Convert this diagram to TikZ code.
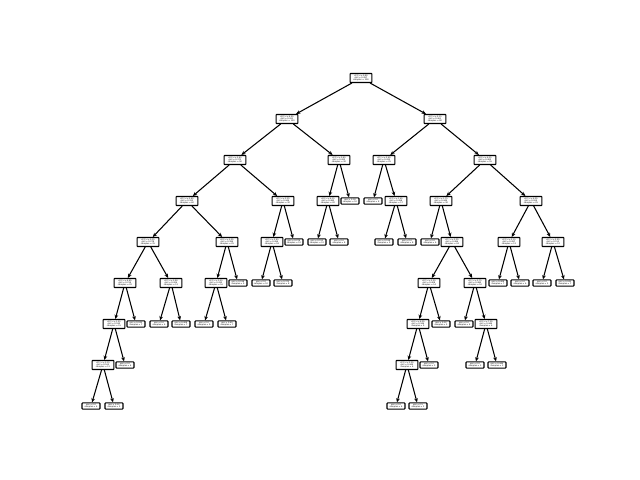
\documentclass[tikz,border=0pt]{standalone}
\usepackage{fontspec}
\setmainfont{DejaVu Sans}
\usepackage{xcolor}
\usetikzlibrary{arrows.meta}
\newcommand{\splittxt}[4]{x[#1] <= #2\\gini = #3\\samples = #4}
\newcommand{\leaftxt}[2]{gini = #1\\samples = #2}
\tikzset{
  split/.style={draw=black,fill=white,rounded corners=0.5pt,line width=0.75pt,
                inner sep=0.6pt,align=center,font=\fontsize{1.45}{1.7}\selectfont,
                minimum width=15.6pt,minimum height=6.4pt},
  leaf/.style={split,minimum width=12.8pt,minimum height=4.4pt},
  branch/.style={-{Stealth[length=3pt,width=2.6pt]},line width=0.75pt,draw=black}
}
\begin{document}
\begin{tikzpicture}[x=0.025cm,y=-0.025cm]
  \useasboundingbox (0,0) rectangle (640,480);
  % level 0-2
  \node[split] (n0) at (361,78) {\splittxt{3}{0.80}{0.497}{200}};
  \node[split] (n1) at (287,119) {\splittxt{2}{4.95}{0.431}{120}};
  \node[split] (n30) at (435,119) {\splittxt{2}{5.15}{0.461}{80}};
  \node[split] (n2) at (235,160) {\splittxt{0}{5.45}{0.375}{90}};
  \node[split] (n25) at (339,160) {\splittxt{3}{0.45}{0.420}{30}};
  \node[split] (n31) at (384,160) {\splittxt{1}{2.65}{0.435}{25}};
  \node[split] (n36) at (485,160) {\splittxt{0}{6.35}{0.400}{55}};
  % level 3
  \node[split] (n3) at (187,201) {\splittxt{1}{2.85}{0.320}{60}};
  \node[split] (n20) at (283,201) {\splittxt{1}{3.35}{0.444}{30}};
  \node[split] (n26) at (328,201) {\splittxt{0}{6.15}{0.480}{20}};
  \node[leaf] (n29) at (350,201) {\leaftxt{0.18}{10}};
  \node[leaf] (n32) at (373,201) {\leaftxt{0.0}{8}};
  \node[split] (n33) at (396,201) {\splittxt{3}{1.65}{0.498}{17}};
  \node[split] (n37) at (441,201) {\splittxt{3}{1.75}{0.444}{30}};
  \node[split] (n52) at (531,201) {\splittxt{2}{6.05}{0.269}{25}};
  % level 4
  \node[split] (n4) at (148,242) {\splittxt{3}{0.35}{0.278}{35}};
  \node[split] (n15) at (227,242) {\splittxt{0}{5.05}{0.384}{25}};
  \node[split] (n21) at (272,242) {\splittxt{2}{2.45}{0.494}{18}};
  \node[leaf] (n24) at (294,242) {\leaftxt{0.278}{12}};
  \node[leaf] (n27) at (317,242) {\leaftxt{0.153}{12}};
  \node[leaf] (n28) at (339,242) {\leaftxt{0.0}{8}};
  \node[leaf] (n34) at (384,242) {\leaftxt{0.198}{9}};
  \node[leaf] (n35) at (407,242) {\leaftxt{0.0}{8}};
  \node[leaf] (n38) at (430,242) {\leaftxt{0.0}{6}};
  \node[split] (n39) at (452,242) {\splittxt{1}{3.05}{0.486}{24}};
  \node[split] (n53) at (509,242) {\splittxt{3}{2.15}{0.497}{13}};
  \node[split] (n56) at (553,242) {\splittxt{1}{2.95}{0.153}{12}};
  % level 5
  \node[split] (n5) at (125,283) {\splittxt{0}{4.85}{0.219}{22}};
  \node[split] (n12) at (171,283) {\splittxt{2}{3.90}{0.426}{13}};
  \node[split] (n16) at (216,283) {\splittxt{3}{0.55}{0.430}{16}};
  \node[leaf] (n19) at (238,283) {\leaftxt{0.198}{9}};
  \node[leaf] (n22) at (261,283) {\leaftxt{0.0}{10}};
  \node[leaf] (n23) at (283,283) {\leaftxt{0.375}{8}};
  \node[split] (n40) at (429,283) {\splittxt{2}{5.55}{0.408}{14}};
  \node[split] (n47) at (475,283) {\splittxt{1}{2.75}{0.480}{10}};
  \node[leaf] (n54) at (498,283) {\leaftxt{0.408}{7}};
  \node[leaf] (n55) at (520,283) {\leaftxt{0.0}{6}};
  \node[leaf] (n57) at (542,283) {\leaftxt{0.0}{5}};
  \node[leaf] (n58) at (565,283) {\leaftxt{0.245}{7}};
  % level 6
  \node[split] (n6) at (114,324) {\splittxt{2}{1.55}{0.180}{15}};
  \node[leaf] (n11) at (136,324) {\leaftxt{0.245}{7}};
  \node[leaf] (n13) at (159,324) {\leaftxt{0.0}{6}};
  \node[leaf] (n14) at (181,324) {\leaftxt{0.408}{7}};
  \node[leaf] (n17) at (204,324) {\leaftxt{0.0}{9}};
  \node[leaf] (n18) at (227,324) {\leaftxt{0.49}{7}};
  \node[split] (n41) at (418,324) {\splittxt{0}{6.05}{0.346}{9}};
  \node[leaf] (n46) at (441,324) {\leaftxt{0.32}{5}};
  \node[leaf] (n48) at (464,324) {\leaftxt{0.0}{4}};
  \node[split] (n49) at (486,324) {\splittxt{0}{7.05}{0.444}{6}};
  % level 7-8
  \node[split] (n7) at (103,365) {\splittxt{1}{3.15}{0.165}{11}};
  \node[leaf] (n10) at (125,365) {\leaftxt{0.0}{4}};
  \node[split] (n42) at (407,365) {\splittxt{3}{2.05}{0.444}{6}};
  \node[leaf] (n45) at (429,365) {\leaftxt{0.0}{3}};
  \node[leaf] (n50) at (475,365) {\leaftxt{0.0}{3}};
  \node[leaf] (n51) at (497,365) {\leaftxt{0.444}{3}};
  \node[leaf] (n8) at (91,406) {\leaftxt{0.0}{6}};
  \node[leaf] (n9) at (114,406) {\leaftxt{0.32}{5}};
  \node[leaf] (n43) at (396,406) {\leaftxt{0.0}{4}};
  \node[leaf] (n44) at (418,406) {\leaftxt{0.5}{2}};
  % branches
  \draw[branch] (n0)--(n1); \draw[branch] (n0)--(n30);
  \draw[branch] (n1)--(n2); \draw[branch] (n1)--(n25); \draw[branch] (n30)--(n31); \draw[branch] (n30)--(n36);
  \draw[branch] (n2)--(n3); \draw[branch] (n2)--(n20); \draw[branch] (n25)--(n26); \draw[branch] (n25)--(n29);
  \draw[branch] (n31)--(n32); \draw[branch] (n31)--(n33); \draw[branch] (n36)--(n37); \draw[branch] (n36)--(n52);
  \draw[branch] (n3)--(n4); \draw[branch] (n3)--(n15); \draw[branch] (n20)--(n21); \draw[branch] (n20)--(n24);
  \draw[branch] (n26)--(n27); \draw[branch] (n26)--(n28); \draw[branch] (n33)--(n34); \draw[branch] (n33)--(n35);
  \draw[branch] (n37)--(n38); \draw[branch] (n37)--(n39); \draw[branch] (n52)--(n53); \draw[branch] (n52)--(n56);
  \draw[branch] (n4)--(n5); \draw[branch] (n4)--(n12); \draw[branch] (n15)--(n16); \draw[branch] (n15)--(n19);
  \draw[branch] (n21)--(n22); \draw[branch] (n21)--(n23); \draw[branch] (n39)--(n40); \draw[branch] (n39)--(n47);
  \draw[branch] (n53)--(n54); \draw[branch] (n53)--(n55); \draw[branch] (n56)--(n57); \draw[branch] (n56)--(n58);
  \draw[branch] (n5)--(n6); \draw[branch] (n5)--(n11); \draw[branch] (n12)--(n13); \draw[branch] (n12)--(n14);
  \draw[branch] (n16)--(n17); \draw[branch] (n16)--(n18); \draw[branch] (n40)--(n41); \draw[branch] (n40)--(n46);
  \draw[branch] (n47)--(n48); \draw[branch] (n47)--(n49);
  \draw[branch] (n6)--(n7); \draw[branch] (n6)--(n10); \draw[branch] (n41)--(n42); \draw[branch] (n41)--(n45);
  \draw[branch] (n49)--(n50); \draw[branch] (n49)--(n51);
  \draw[branch] (n7)--(n8); \draw[branch] (n7)--(n9); \draw[branch] (n42)--(n43); \draw[branch] (n42)--(n44);
\end{tikzpicture}
\end{document}
